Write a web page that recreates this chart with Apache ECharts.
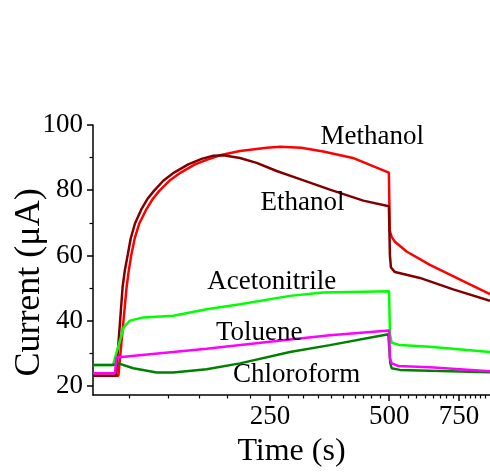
<!DOCTYPE html>
<html>
<head>
<meta charset="utf-8">
<script src="https://cdn.jsdelivr.net/npm/echarts@6/dist/echarts.min.js"></script>
<style>
  html, body { margin: 0; padding: 0; background: #fff; }
  #chart { width: 490px; height: 473px; }
</style>
</head>
<body>
<div id="chart"></div>
<script>
const FONT = '"Liberation Serif", "Times New Roman", serif';

// values: time (s) on a log axis, current (µA)
const methanolTime = [89.4, 103.6, 108.7, 110.0, 111.7, 113.9, 117.0, 122.1, 126.5, 131.4, 139.3, 148.8, 161.7, 173.0, 187.0, 210.0, 245.3, 265.0, 300.0, 340.7, 404.9, 454.8, 499.0, 501.5, 507.0, 516.9, 553.0, 633.3, 768.5, 898];
const methanolCurrent = [23.1, 23.1, 50.4, 55.2, 60.2, 65.2, 69.8, 74.3, 77.3, 79.8, 82.9, 85.4, 87.9, 89.3, 90.7, 92.0, 93.0, 93.3, 93.0, 91.9, 89.9, 87.4, 85.4, 67.5, 65.7, 64.2, 61.2, 57.1, 52.1, 48.1];

const ethanolTime = [89.4, 102.2, 106.2, 107.5, 109.4, 111.3, 114.1, 118.6, 122.6, 127.4, 134.5, 143.2, 155.5, 168.1, 179.9, 190.6, 210.0, 231.4, 259.9, 297.6, 354.2, 430.0, 499.0, 502.0, 505.0, 516.9, 597.5, 725.0, 898];
const ethanolCurrent = [23.1, 23.1, 50.4, 55.2, 60.2, 65.2, 69.8, 74.3, 77.3, 79.8, 82.9, 85.4, 87.9, 89.6, 90.6, 90.7, 89.9, 88.4, 85.9, 83.4, 80.2, 76.8, 75.1, 60.0, 56.3, 54.9, 53.1, 49.6, 46.1];

const acetonitrileTime = [89.4, 100.4, 103.6, 106.9, 110.8, 119.7, 142.6, 173.0, 210.0, 280.8, 340.7, 430.0, 499.5, 502.0, 507.0, 532.0, 633.3, 898];
const acetonitrileCurrent = [26.4, 26.4, 32.2, 38.0, 40.0, 41.0, 41.5, 43.5, 45.0, 47.6, 48.6, 48.9, 49.0, 36.0, 33.2, 32.5, 32.0, 30.4];

const chloroformTime = [89.4, 100.4, 103.6, 113.0, 129.4, 142.6, 173.0, 210.0, 280.8, 354.2, 497.3, 500.5, 503.0, 507.0, 532.0, 898];
const chloroformCurrent = [26.4, 26.4, 26.9, 25.4, 24.1, 24.1, 25.1, 26.9, 30.4, 32.5, 35.8, 36.0, 27.0, 25.4, 24.9, 24.2];

const tolueneTime = [89.4, 101.6, 102.4, 173.0, 280.8, 354.2, 499.5, 502.0, 507.0, 527.0, 633.3, 898];
const tolueneCurrent = [23.9, 23.9, 28.7, 31.4, 34.2, 35.5, 37.0, 28.5, 26.9, 26.1, 25.7, 24.5];

// in-plot labels
const labelNames = ['Methanol', 'Ethanol', 'Acetonitrile', 'Toluene', 'Chloroform'];
const labelTimes = [452.8, 302.0, 252.5, 234.8, 291.9];
const labelValues = [96.4, 76.1, 51.9, 36.1, 23.5];

// ticks
const xMajorTicks = [250, 500, 750];
const xMinorTicks = [110.6, 138.2, 166.2, 194.8, 222.5, 278, 303.4, 331, 357.8, 382.8, 409.7, 430, 451.5, 473.8,
  532, 557, 586, 615, 644.5, 671, 698, 725, 776, 800, 825, 850, 875];
const yMajorTicks = [20, 40, 60, 80, 100];
const yMinorTicks = [30, 50, 70, 90];

const X_MIN = 89.4;
const X_MAX = 898;
const Y_MIN = 17.2;
const Y_MAX = 100;

const zip = (xs, ys) => xs.map((x, i) => [x, ys[i]]);

const lineSeries = (name, xs, ys, color) => ({
  name,
  type: 'line',
  data: zip(xs, ys),
  showSymbol: false,
  symbol: 'none',
  silent: true,
  lineStyle: { color, width: 2.5 },
  z: 3,
});

const chart = echarts.init(document.getElementById('chart'), null, { renderer: 'canvas' });

const axisText = { fontFamily: FONT, fontSize: 27, color: '#000' };

chart.setOption({
  animation: false,
  backgroundColor: '#fff',
  grid: { left: 93, right: 0, top: 125, bottom: 74 },
  xAxis: [
    {
      type: 'log',
      logBase: 10,
      min: X_MIN,
      max: X_MAX,
      position: 'bottom',
      splitLine: { show: false },
      axisLine: { show: true, lineStyle: { color: '#000', width: 1.5 } },
      axisTick: { show: true, customValues: xMajorTicks, length: 6, lineStyle: { color: '#000', width: 1.5 } },
      axisLabel: {
        ...axisText,
        customValues: xMajorTicks,
        margin: 8,
        formatter: (v) => String(Math.round(v)),
      },
      name: 'Time (s)',
      nameLocation: 'middle',
      nameGap: 41,
      nameTextStyle: { fontFamily: FONT, fontSize: 32, color: '#000' },
    },
    {
      type: 'log',
      logBase: 10,
      min: X_MIN,
      max: X_MAX,
      position: 'bottom',
      splitLine: { show: false },
      axisLine: { show: false },
      axisTick: { show: true, customValues: xMinorTicks, length: 3.5, lineStyle: { color: '#000', width: 1.2 } },
      axisLabel: { show: false },
    },
  ],
  yAxis: [
    {
      type: 'value',
      min: Y_MIN,
      max: Y_MAX,
      position: 'left',
      splitLine: { show: false },
      axisLine: { show: true, lineStyle: { color: '#000', width: 1.5 } },
      axisTick: { show: true, customValues: yMajorTicks, length: 6, lineStyle: { color: '#000', width: 1.5 } },
      axisLabel: { ...axisText, customValues: yMajorTicks, margin: 10 },
    },
    {
      type: 'value',
      min: Y_MIN,
      max: Y_MAX,
      position: 'left',
      splitLine: { show: false },
      axisLine: { show: false },
      axisTick: { show: true, customValues: yMinorTicks, length: 3.5, lineStyle: { color: '#000', width: 1.2 } },
      axisLabel: { show: false },
    },
  ],
  graphic: [
    {
      type: 'text',
      x: 29.8,
      y: 282.5,
      rotation: Math.PI / 2,
      style: {
        text: 'Current (μA)',
        font: '36px ' + FONT,
        fill: '#000',
        align: 'center',
        verticalAlign: 'middle',
      },
    },
  ],
  series: [
    lineSeries('Methanol', methanolTime, methanolCurrent, '#ff0000'),
    lineSeries('Ethanol', ethanolTime, ethanolCurrent, '#800000'),
    lineSeries('Acetonitrile', acetonitrileTime, acetonitrileCurrent, '#00ff00'),
    lineSeries('Chloroform', chloroformTime, chloroformCurrent, '#008000'),
    lineSeries('Toluene', tolueneTime, tolueneCurrent, '#ff00ff'),
    {
      type: 'scatter',
      silent: true,
      symbolSize: 1,
      itemStyle: { color: 'rgba(0,0,0,0)', opacity: 1 },
      data: labelNames.map((n, i) => [labelTimes[i], labelValues[i], n]),
      label: {
        show: true,
        position: 'inside',
        formatter: (p) => p.data[2],
        fontFamily: FONT,
        fontSize: 27,
        color: '#000',
        opacity: 1,
      },
      z: 5,
    },
  ],
});
</script>
</body>
</html>
